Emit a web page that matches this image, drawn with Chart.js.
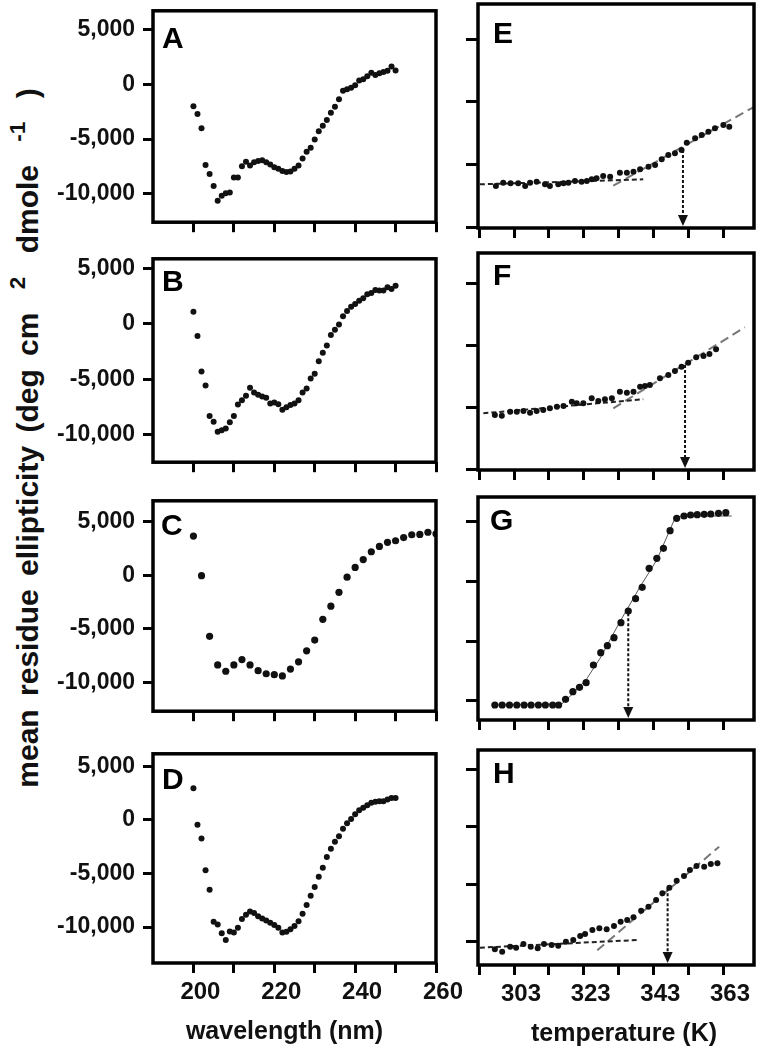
<!DOCTYPE html>
<html>
<head>
<meta charset="utf-8">
<script src="https://cdn.jsdelivr.net/npm/chart.js@4.4.1/dist/chart.umd.min.js"></script>
<style>
  html, body { margin: 0; padding: 0; background: #fff; }
  body { width: 760px; height: 1050px; position: relative; overflow: hidden; }
  canvas { position: absolute; }
  #ytitle {
    position: absolute; left: 28px; top: 438px; width: 900px; height: 34px;
    margin-left: -450px; margin-top: -17px; line-height: 34px; text-align: center;
    transform: rotate(-90deg); white-space: nowrap; color: #111; word-spacing: 5px;
    font: bold 30px "Liberation Sans", Arial, sans-serif;
  }
  #ytitle sup { font-size: 0.75em; line-height: 0; vertical-align: 0.6em; margin: 0 10px; }
</style>
</head>
<body>
<div id="ytitle">mean residue ellipticity (deg cm <sup>2</sup> dmole <sup>-1</sup> )</div>
<script>
// ---- wavelength scans (nm) ----
const wl1nm = [200,201,202,203,204,205,206,207,208,209,210,211,212,213,214,215,216,217,218,219,220,
  221,222,223,224,225,226,227,228,229,230,231,232,233,234,235,236,237,238,239,240,
  241,242,243,244,245,246,247,248,249,250];
const wl2nm = [200,202,204,206,208,210,212,214,216,218,220,222,224,226,228,230,232,234,236,238,240,
  242,244,246,248,250,252,254,256,258,260];

const ellipA = [-2000,-2700,-4000,-7350,-8190,-9290,-10625,-10180,-9940,-9880,-8510,-8510,-7470,-7054,-7410,
  -7116,-6990,-6935,-7116,-7320,-7560,-7700,-7920,-8010,-7950,-7700,-7410,-6760,-6160,-5780,-5030,
  -4270,-3780,-3250,-2580,-2030,-1360,-580,-440,-310,-80,360,470,750,1060,860,1030,1140,1250,1640,1280];
const ellipB = [1073,-1102,-4294,-5565,-8306,-8814,-9718,-9577,-9436,-8870,-8306,-7260,-6892,-6468,-5763,
  -6187,-6384,-6553,-6666,-7175,-7090,-7232,-7740,-7514,-7316,-7175,-6892,-6187,-5819,-4916,-4492,
  -3362,-2599,-1949,-1017,-537,-56,678,1158,1526,1780,2062,2288,2655,2768,3051,2994,2994,3277,3136,3419];
const ellipC = [3675,-29,-5704,-8379,-8967,-8379,-7879,-8379,-8908,-9202,-9290,-9408,-8761,-8085,-7056,
  -6056,-4115,-2881,-1588,-176,735,1470,2205,2705,3087,3234,3528,3793,3822,4028,3881];
const ellipD = [2970,-455,-1727,-4696,-6514,-9514,-9756,-10574,-11211,-10423,-10514,-10060,-9241,-8847,-8545,
  -8696,-9000,-9211,-9393,-9605,-9817,-10060,-10514,-10454,-10211,-9908,-9454,-8757,-7939,-7090,-6272,
  -5302,-4454,-3454,-2697,-2030,-1515,-818,-303,91,545,909,1151,1364,1606,1697,1757,1757,1909,2060,2060];

// ---- thermal melts (K) ----
const tempE = [297.8,299.9,302.0,304.2,306.2,307.6,309.5,311.9,313.3,315.7,317.2,318.6,320.5,322.4,323.9,
  325.3,326.7,328.6,330.6,333.4,335.4,337.3,339.2,341.6,343.5,345.4,347.3,349.2,351.1,352.6,355.0,
  356.9,358.8,360.7,363.1,364.8];
const ellipE = [-11722,-11458,-11510,-11510,-11722,-11458,-11378,-11590,-11722,-11590,-11510,-11458,-11323,
  -11378,-11323,-11190,-11110,-10924,-10977,-10658,-10658,-10578,-10392,-10180,-10047,-9595,-9250,
  -9117,-8851,-8268,-7920,-7655,-7389,-7123,-6858,-6991];
const tempF = [297.5,299.5,301.9,303.8,305.7,307.6,309.5,311.4,313.3,315.3,317.2,319.6,321.0,322.9,325.3,
  327.2,329.1,331.1,333.4,335.4,337.3,339.2,340.6,342.0,344.9,347.3,349.2,351.1,353.0,355.3,357.4,
  359.1,361.0];
const ellipF = [-10588,-10643,-10322,-10322,-10266,-10402,-10266,-10185,-10049,-9920,-9864,-9518,-9647,
  -9647,-9245,-9462,-9325,-9245,-8714,-8795,-8714,-8312,-8256,-8176,-7637,-7372,-7050,-6705,-6383,
  -5949,-5844,-5684,-5306];
const tempG = [297.5,299.6,301.7,303.8,305.9,307.9,310.0,312.0,314.1,315.8,317.8,319.9,321.8,323.7,325.8,
  327.9,329.8,331.7,333.7,335.8,337.9,339.8,341.8,344.0,345.9,347.8,349.7,351.8,353.7,355.6,357.6,
  359.5,361.7,363.8];
const ellipG = [-15351,-15351,-15351,-15351,-15351,-15351,-15351,-15351,-15351,-15351,-14877,-14237,-13871,
  -13484,-12001,-10971,-10385,-9715,-8459,-7479,-6449,-5494,-3903,-3065,-2228,-754,285,477,561,586,
  620,645,703,754];
const tempH = [297.5,299.6,301.9,303.6,305.7,307.8,309.8,311.6,313.8,315.7,317.9,320.0,322.0,323.4,325.5,
  327.5,329.6,331.7,333.6,335.5,337.3,339.5,341.6,343.8,345.6,347.6,349.7,351.8,353.5,355.4,357.6,
  359.5,361.4];
const ellipH = [-15653,-15861,-15427,-15514,-15192,-15427,-15566,-15192,-15279,-15340,-14992,-14844,-14496,
  -14322,-13975,-13827,-13914,-13627,-13253,-13105,-12870,-12296,-11948,-11366,-10783,-10296,-9687,
  -9279,-8757,-8409,-8470,-8235,-8174];

// linear baselines (pre / post transition) and the G fit
const preTempE = [293.2, 340.1], preEllipE = [-11590, -11190];
const postTempE = [331.5, 371.7], postEllipE = [-11696, -5446];
const preTempF = [294.2, 340.1], preEllipF = [-10451, -9325];
const postTempF = [331.5, 369.3], postEllipF = [-10049, -3537];
const preTempH = [293.2, 338.2], preEllipH = [-15514, -14844];
const postTempH = [326.9, 361.9], postEllipH = [-15740, -6731];
const fitTempG = [297.1, 316.7, 320.0, 323.9, 327.7, 333.4, 339.2, 344.0, 349.2, 351.1, 365.5];
const fitEllipG = [-15351, -15268, -14371, -13149, -11440, -8375, -5444, -3208, 285, 477, 477];

// melting points (Tm, ellipticity where the arrow starts)
const meltE = [351.5, -8851];
const meltF = [352.1, -6568];
const meltG = [335.8, -7672];
const meltH = [347.1, -10348];

// ticks
const wlTicks = [200, 210, 220, 230, 240, 250, 260];
const wlLabels = [200, 220, 240, 260];
const tempTicks = [293, 303, 313, 323, 333, 343, 353, 363];
const tempLabels = [303, 323, 343, 363];
const specYTicks = [-10000, -5000, 0, 5000];
const meltYTicks = [-15000, -10000, -5000, 0];

const FONT = '"Liberation Sans", Arial, sans-serif';
const pre = '#222', post = '#777';

const panels = [
  { key: 'A', col: 0, box: [153, 5, 436, 229], yr: [-12586, 6724], x: wl1nm, y: ellipA, r: 3, L: [9, 37] },
  { key: 'B', col: 0, box: [153, 253, 436, 469], yr: [-12458, 5848], x: wl1nm, y: ellipB, r: 3, L: [9, 32] },
  { key: 'C', col: 0, box: [153, 495, 436, 718], yr: [-12701, 6968], x: wl2nm, y: ellipC, r: 3.6, L: [8, 34] },
  { key: 'D', col: 0, box: [153, 748, 436, 963], yr: [-13362, 6181], x: wl1nm, y: ellipD, r: 3, L: [9, 35],
    title: 'wavelength (nm)', titleDx: -10 },
  { key: 'E', col: 1, box: [478, 4, 754, 228], yr: [-15071, 2791], x: tempE, y: ellipE, r: 3, L: [15, 39],
    melt: meltE, lines: [[preTempE, preEllipE, pre], [postTempE, postEllipE, post]] },
  { key: 'F', col: 1, box: [478, 253, 754, 470], yr: [-15009, 2436], x: tempF, y: ellipF, r: 3, L: [15, 32],
    melt: meltF, lines: [[preTempF, preEllipF, pre], [postTempF, postEllipF, post]] },
  { key: 'G', col: 1, box: [478, 497, 754, 720], yr: [-16608, 2069], x: tempG, y: ellipG, r: 3.6, L: [12, 33],
    melt: meltG, lines: [[fitTempG, fitEllipG, 'fit']] },
  { key: 'H', col: 1, box: [478, 750, 754, 965], yr: [-17018, 1678], x: tempH, y: ellipH, r: 3, L: [15, 33],
    melt: meltH, lines: [[preTempH, preEllipH, pre], [postTempH, postEllipH, post]],
    title: 'temperature (K)', titleDx: 8 }
];

const panelDecor = {
  id: 'panelDecor',
  afterDatasetsDraw(chart, args, o) {
    if (!o.melt) return;
    const { ctx, chartArea: a, scales } = chart;
    const x = scales.x.getPixelForValue(o.melt[0]);
    const y0 = scales.y.getPixelForValue(o.melt[1]);
    const y1 = a.bottom - 2;
    ctx.save();
    ctx.strokeStyle = '#111';
    ctx.lineWidth = 2;
    ctx.setLineDash([3, 2]);
    ctx.beginPath();
    ctx.moveTo(x, y0);
    ctx.lineTo(x, y1 - 9);
    ctx.stroke();
    ctx.setLineDash([]);
    ctx.fillStyle = '#111';
    ctx.beginPath();
    ctx.moveTo(x - 5, y1 - 11);
    ctx.lineTo(x + 5, y1 - 11);
    ctx.lineTo(x, y1);
    ctx.closePath();
    ctx.fill();
    ctx.restore();
  },
  afterDraw(chart, args, o) {
    const { ctx, chartArea: a } = chart;
    ctx.save();
    ctx.strokeStyle = '#000';
    ctx.lineWidth = 3.5;
    ctx.strokeRect(a.left, a.top, a.right - a.left, a.bottom - a.top);
    ctx.fillStyle = '#000';
    ctx.font = 'bold 30px ' + FONT;
    ctx.textBaseline = 'alphabetic';
    ctx.textAlign = 'left';
    ctx.fillText(o.letter, a.left + o.L[0], a.top + o.L[1]);
    if (o.title) {
      ctx.font = 'bold 25px ' + FONT;
      ctx.textAlign = 'center';
      ctx.textBaseline = 'middle';
      ctx.fillStyle = '#111';
      ctx.fillText(o.title, (a.left + a.right) / 2 + o.titleDx, a.bottom + 69);
    }
    ctx.restore();
  }
};

function buildPanel(p) {
  const left = p.col === 0;
  const [l, t, r, b] = p.box;
  const yW = left ? 150 : 16;
  const padTop = 16;
  const padRight = left ? 30 : 6;
  const bottomRow = !!p.title;
  const xH = bottomRow ? 1050 - b : 15;
  const w = yW + (r - l) + padRight;
  const h = padTop + (b - t) + xH;

  const canvas = document.createElement('canvas');
  canvas.width = w;
  canvas.height = h;
  canvas.style.left = (l - yW) + 'px';
  canvas.style.top = (t - padTop) + 'px';
  canvas.style.width = w + 'px';
  canvas.style.height = h + 'px';
  document.body.appendChild(canvas);

  const datasets = [{
    data: p.x.map((x, i) => ({ x, y: p.y[i] })),
    pointRadius: p.r,
    pointBackgroundColor: '#111',
    pointBorderWidth: 0,
    showLine: false,
    order: 0
  }];
  (p.lines || []).forEach(([xs, ys, kind]) => {
    const fit = kind === 'fit';
    datasets.push({
      type: 'line',
      data: xs.map((x, i) => ({ x, y: ys[i] })),
      borderColor: fit ? '#555' : kind,
      borderWidth: fit ? 1 : 2,
      borderDash: fit ? [] : (kind === pre ? [5, 3] : [9, 5]),
      pointRadius: 0,
      showLine: true,
      fill: false,
      tension: 0,
      order: 1
    });
  });

  const xTicks = left ? wlTicks : tempTicks;
  const xLabels = left ? wlLabels : tempLabels;
  const yTicks = left ? specYTicks : meltYTicks;

  new Chart(canvas, {
    type: 'scatter',
    data: { datasets },
    plugins: [panelDecor],
    options: {
      responsive: false,
      devicePixelRatio: 1,
      animation: false,
      events: [],
      layout: { padding: { top: padTop, right: padRight, left: 0, bottom: 0 } },
      plugins: {
        legend: { display: false },
        tooltip: { enabled: false },
        panelDecor: { letter: p.key, L: p.L, melt: p.melt, title: p.title, titleDx: p.titleDx || 0 }
      },
      scales: {
        x: {
          type: 'linear',
          min: left ? 190 : 292.66,
          max: left ? 260 : 371.9,
          afterBuildTicks: s => { s.ticks = xTicks.map(v => ({ value: v })); },
          afterFit: s => { s.height = xH; },
          border: { display: false },
          grid: { display: true, drawOnChartArea: false, drawTicks: true, tickLength: 10, tickWidth: 3, tickColor: '#000' },
          ticks: {
            autoSkip: false, maxRotation: 0, minRotation: 0, padding: 5, labelOffset: 7,
            color: '#111',
            font: { family: FONT, size: bottomRow ? 24 : 2, weight: 'bold' },
            callback: v => (bottomRow && xLabels.includes(v)) ? String(v) : ''
          }
        },
        y: {
          type: 'linear',
          min: p.yr[0],
          max: p.yr[1],
          afterBuildTicks: s => { s.ticks = yTicks.map(v => ({ value: v })); },
          afterFit: s => { s.width = yW; },
          border: { display: false },
          grid: { display: true, drawOnChartArea: false, drawTicks: true, tickLength: left ? 10 : 12, tickWidth: 3, tickColor: '#000' },
          ticks: {
            autoSkip: false, padding: 8,
            color: '#111',
            font: { family: FONT, size: left ? 23 : 2, weight: 'bold' },
            callback: v => left ? v.toLocaleString('en-US') : ''
          }
        }
      }
    }
  });
}

panels.forEach(buildPanel);
</script>
</body>
</html>
